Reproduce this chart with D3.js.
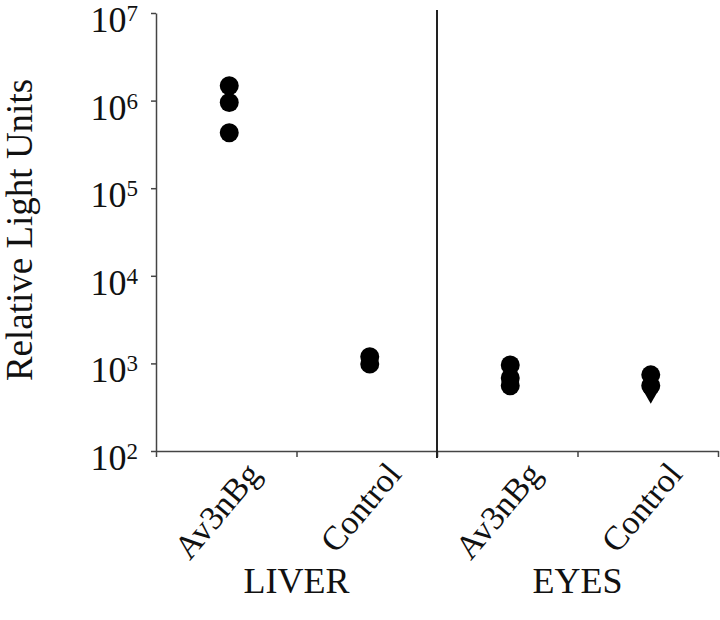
<!DOCTYPE html>
<html>
<head>
<meta charset="utf-8">
<script src="https://cdn.jsdelivr.net/npm/d3@7"></script>
<style>
  body { margin: 0; background: #fff; }
  text { font-family: "Liberation Serif", "DejaVu Serif", serif; fill: #111; }
</style>
</head>
<body>
<svg id="chart" width="720" height="620"></svg>
<script>
// data
const tissues = ["LIVER", "EYES"];
const treatments = ["Av3nBg", "Control"];
const liverAv3nBg = [1.48e6, 9.5e5, 4.3e5];
const liverControl = [1190, 985];
const eyesAv3nBg = [960, 680, 555];
const eyesControl = [740, 555];
const eyesControlDiamond = [490];
const yTicks = [1e2, 1e3, 1e4, 1e5, 1e6, 1e7];
const yExponents = ["2", "3", "4", "5", "6", "7"];

var margin = {top: 13, left: 156, right: 2, bottom: 169};
const width = 720 - margin.left - margin.right;
const height = 620 - margin.top - margin.bottom;

// one column per tissue/treatment pair
var columns = [];
tissues.forEach(function(t){
  treatments.forEach(function(tr){ columns.push(t + "|" + tr); });
});

var x = d3.scaleBand().domain(columns).range([0, width]);
var xEdge = d3.scaleLinear().domain([0, columns.length]).range([0, width]);
var y = d3.scaleLog().domain([1e2, 1e7]).range([height, 0]);

const svg = d3.select("#chart");
var graph = svg.append("g")
  .attr("transform", "translate(" + margin.left + "," + margin.top + ")");

// x axis: ticks sit on the column edges
var xAxis = graph.append("g")
  .attr("transform", "translate(0," + height + ")")
  .call(d3.axisBottom(xEdge).ticks(columns.length).tickSize(6).tickSizeOuter(0).tickFormat(""));
xAxis.selectAll("path, line").attr("stroke", "#444").attr("stroke-width", 1.5);

// y axis
var yAxis = graph.append("g")
  .call(d3.axisLeft(y).tickValues(yTicks).tickSize(5).tickSizeOuter(0).tickFormat(""));
yAxis.selectAll("path, line").attr("stroke", "#444").attr("stroke-width", 1.5);

// y tick labels as 10 with superscript
var yLab = graph.append("g").selectAll("text")
  .data(yTicks)
  .enter()
  .append("text")
  .attr("x", -18)
  .attr("y", function(d) { return y(d) + 19; })
  .attr("text-anchor", "end");
yLab.append("tspan").style("font-size", "36px").text("10");
yLab.append("tspan")
  .style("font-size", "23px")
  .attr("dy", -11)
  .text(function(d, i) { return yExponents[i]; });

// y title
graph.append("text")
  .attr("transform", "translate(" + (32 - margin.left) + "," + (230 - margin.top) + ") rotate(-90)")
  .attr("text-anchor", "middle")
  .style("font-size", "37px")
  .text("Relative Light Units");

// divider between tissues
graph.append("line")
  .attr("x1", xEdge(2)).attr("x2", xEdge(2))
  .attr("y1", -3).attr("y2", height + 7)
  .attr("stroke", "#222")
  .attr("stroke-width", 2);

// rotated treatment labels
graph.append("g").selectAll("text")
  .data(columns)
  .enter()
  .append("text")
  .attr("transform", function(d) {
    return "translate(" + (x(d) + x.bandwidth() / 2 + 36) + "," + (height + 24) + ") rotate(-50)";
  })
  .attr("text-anchor", "end")
  .style("font-size", "34px")
  .text(function(d) { return d.split("|")[1]; });

// tissue labels, centred under each pair
graph.append("g").selectAll("text")
  .data(tissues)
  .enter()
  .append("text")
  .attr("x", function(d, i) { return xEdge(i * 2 + 1); })
  .attr("y", 593 - margin.top)
  .attr("text-anchor", "middle")
  .style("font-size", "36px")
  .text(function(d) { return d; });

// points
var points = [];
[[liverAv3nBg, "LIVER|Av3nBg"], [liverControl, "LIVER|Control"],
 [eyesAv3nBg, "EYES|Av3nBg"], [eyesControl, "EYES|Control"]].forEach(function(s){
  s[0].forEach(function(v){ points.push({col: s[1], value: v}); });
});

graph.selectAll("circle")
  .data(points)
  .enter()
  .append("circle")
  .attr("r", 9.5)
  .attr("cx", function(d) { return x(d.col) + x.bandwidth() / 2 + 3; })
  .attr("cy", function(d) { return y(d.value); })
  .attr("fill", "#000");

graph.selectAll("path.diamond")
  .data(eyesControlDiamond)
  .enter()
  .append("path")
  .attr("class", "diamond")
  .attr("d", d3.symbol().type(d3.symbolDiamond).size(200))
  .attr("transform", function(d) {
    return "translate(" + (x("EYES|Control") + x.bandwidth() / 2 + 3) + "," + y(d) + ")";
  })
  .attr("fill", "#000");
</script>
</body>
</html>
